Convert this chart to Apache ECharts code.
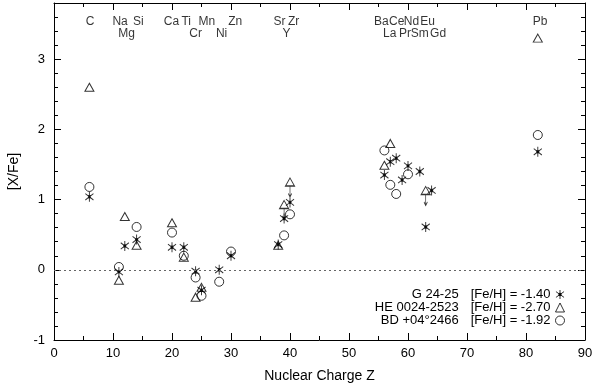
<!DOCTYPE html>
<html>
<head>
<meta charset="utf-8">
<script src="https://cdn.jsdelivr.net/npm/echarts@6/dist/echarts.min.js"></script>
<style>
  html, body { margin: 0; padding: 0; background: #fff; }
  #chart { width: 600px; height: 387px; }
</style>
</head>
<body>
<div id="chart"></div>
<script>
// star names and metallicities
const starNames = ['G 24-25', 'HE 0024-2523', 'BD +04\u00b02466']
const fehValues = ['-1.40', '-2.70', '-1.92']

// G 24-25 (asterisks)
const zG = [6, 11, 12, 14, 20, 22, 24, 25, 28, 30, 38, 39, 40, 56, 57, 58, 59, 60, 62, 63, 64, 82]
const xfeG = [1.04, -0.03, 0.34, 0.43, 0.32, 0.32, -0.02, -0.29, 0.00, 0.20, 0.36, 0.73, 0.96, 1.35, 1.54, 1.59, 1.28, 1.48, 1.40, 0.61, 1.13, 1.68]

// HE 0024-2523 (triangles), detections and upper limits
const zHE = [6, 11, 12, 14, 20, 22, 24, 25, 38, 56, 57, 82]
const xfeHE = [2.60, -0.15, 0.76, 0.35, 0.67, 0.18, -0.39, -0.25, 0.35, 1.49, 1.80, 3.30]
const zHElim = [39, 40, 63]
const xfeHElim = [0.93, 1.25, 1.13]

// BD +04 2466 (circles)
const zBD = [6, 11, 14, 20, 22, 24, 25, 28, 30, 39, 40, 56, 57, 58, 60, 82]
const xfeBD = [1.18, 0.04, 0.61, 0.53, 0.20, -0.11, -0.37, -0.17, 0.26, 0.49, 0.79, 1.70, 1.21, 1.08, 1.36, 1.92]

// element labels along the top (two rows)
const elemRow1 = ['C', 'Na', 'Si', 'Ca', 'Ti', 'Mn', 'Zn', 'Sr', 'Zr', 'Ba', 'Ce', 'Nd', 'Eu', 'Pb']
const elemRow1Z = [6.1, 11.2, 14.3, 19.9, 22.4, 25.9, 30.7, 38.2, 40.6, 55.5, 58.1, 60.6, 63.3, 82.4]
const elemRow2 = ['Mg', 'Cr', 'Ni', 'Y', 'La', 'Pr', 'Sm', 'Gd']
const elemRow2Z = [12.3, 24.0, 28.4, 39.4, 56.9, 59.5, 62.0, 65.1]
const rowLevels = [3.54, 3.36]

const FONT = 'Liberation Sans, Arial, Helvetica, sans-serif'

const asteriskPath = 'path://M0,-5L0,5M-4.5,-3.2L4.5,3.2M-4.5,3.2L4.5,-3.2M-1.2,-1.2L1.2,-1.2L1.2,1.2L-1.2,1.2Z'
const limitPath = 'path://M0,-4L4.5,4L-4.5,4ZM0,4L0,15M-1.7,11.5L0,15L1.7,11.5'

const pairs = (xs, ys) => xs.map((x, i) => [x, ys[i]])

const chart = echarts.init(document.getElementById('chart'))

const openStyle = { color: 'rgba(0,0,0,0)', borderColor: '#000', borderWidth: 1 }

const axisCommon = {
  type: 'value',
  splitLine: { show: false },
  axisLine: { show: true, onZero: false, lineStyle: { color: '#000', width: 1 } },
  axisTick: { show: true, inside: true, length: 7, lineStyle: { color: '#000' } },
  minorTick: { show: true, length: 4, lineStyle: { color: '#000' } }
}

const labelData = elemRow1.map((n, i) => ({ name: n, value: [elemRow1Z[i], rowLevels[0]] }))
  .concat(elemRow2.map((n, i) => ({ name: n, value: [elemRow2Z[i], rowLevels[1]] })))

const option = {
  animation: false,
  grid: { left: 54, right: 15, top: 3, bottom: 47, containLabel: false, outerBoundsMode: 'none' },
  legend: {
    data: starNames,
    orient: 'vertical',
    right: 35,
    top: 288,
    padding: 0,
    itemGap: 0,
    itemWidth: 9,
    itemHeight: 9,
    align: 'right',
    selectedMode: false,
    itemStyle: { borderWidth: 1 },
    textStyle: {
      fontFamily: FONT, fontSize: 13, color: '#000', lineHeight: 12,
      rich: {
        n: { fontFamily: FONT, fontSize: 13, color: '#000', width: 86, align: 'right', lineHeight: 12 },
        f: { fontFamily: FONT, fontSize: 13, color: '#000', padding: [0, 0, 0, 12], lineHeight: 12 }
      }
    },
    formatter: (name) => {
      const i = starNames.indexOf(name)
      return '{n|' + name + '}{f|[Fe/H] = ' + fehValues[i] + '}'
    }
  },
  xAxis: [
    Object.assign({}, axisCommon, {
      min: 0, max: 90, interval: 10, position: 'bottom',
      minorTick: Object.assign({}, axisCommon.minorTick, { splitNumber: 2 }),
      axisLabel: { fontFamily: FONT, fontSize: 13, color: '#000', margin: 7 },
      name: 'Nuclear Charge Z',
      nameLocation: 'middle',
      nameGap: 29,
      nameTextStyle: { fontFamily: FONT, fontSize: 14, color: '#000' }
    }),
    Object.assign({}, axisCommon, {
      min: 0, max: 90, interval: 10, position: 'top',
      minorTick: Object.assign({}, axisCommon.minorTick, { splitNumber: 2 }),
      axisLabel: { show: false }
    })
  ],
  yAxis: [
    Object.assign({}, axisCommon, {
      min: -1, max: 3.8, interval: 1, position: 'left',
      minorTick: Object.assign({}, axisCommon.minorTick, { splitNumber: 5 }),
      axisLabel: { fontFamily: FONT, fontSize: 13, color: '#000', margin: 9, showMaxLabel: false },
      name: '[X/Fe]',
      nameLocation: 'middle',
      nameRotate: 90,
      nameGap: 33,
      nameTextStyle: { fontFamily: FONT, fontSize: 14, color: '#000' }
    }),
    Object.assign({}, axisCommon, {
      min: -1, max: 3.8, interval: 1, position: 'right',
      minorTick: Object.assign({}, axisCommon.minorTick, { splitNumber: 5 }),
      axisLabel: { show: false }
    })
  ],
  series: [
    {
      name: starNames[0],
      type: 'scatter',
      data: pairs(zG, xfeG),
      symbol: asteriskPath,
      symbolSize: [9, 10],
      symbolKeepAspect: true,
      itemStyle: { color: '#000', borderColor: '#000', borderWidth: 1 },
      silent: true,
      z: 3,
      markLine: {
        silent: true,
        symbol: 'none',
        label: { show: false },
        lineStyle: { color: '#666', width: 1, type: [2, 3] },
        data: [{ yAxis: 0 }]
      }
    },
    {
      name: starNames[1],
      type: 'scatter',
      data: pairs(zHE, xfeHE),
      symbol: 'triangle',
      symbolSize: [9, 8],
      itemStyle: openStyle,
      silent: true,
      z: 4
    },
    {
      name: 'HE limits',
      type: 'scatter',
      data: pairs(zHElim, xfeHElim),
      symbol: limitPath,
      symbolSize: [9, 19],
      symbolOffset: [0, 5.5],
      itemStyle: openStyle,
      silent: true,
      z: 4
    },
    {
      name: starNames[2],
      type: 'scatter',
      data: pairs(zBD, xfeBD),
      symbol: 'circle',
      symbolSize: 9,
      itemStyle: openStyle,
      silent: true,
      z: 4
    },
    {
      name: 'elements',
      type: 'scatter',
      data: labelData,
      symbolSize: 0,
      silent: true,
      label: {
        show: true,
        position: 'inside',
        formatter: (p) => p.name,
        fontFamily: FONT,
        fontSize: 12,
        color: '#000'
      }
    }
  ]
}

chart.setOption(option)
window.addEventListener('resize', () => chart.resize())
</script>
</body>
</html>
